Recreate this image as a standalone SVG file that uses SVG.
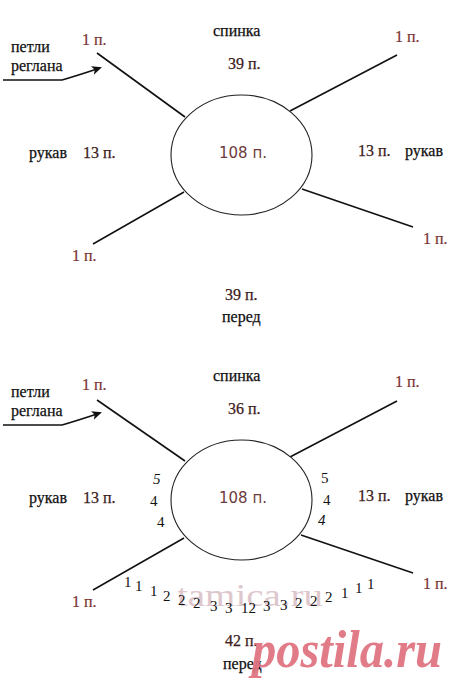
<svg xmlns="http://www.w3.org/2000/svg" width="460" height="691" viewBox="0 0 460 691">
<style>
text{font-family:"Liberation Serif","Times New Roman",Times,serif}
.t{font-size:16px;fill:#111;stroke:#111;stroke-width:0.25}
.r{font-size:16px;fill:#7a3232;stroke:#7a3232;stroke-width:0.2}
.m{font-size:16px;fill:#3c2020;stroke:#3c2020;stroke-width:0.25}
.c{font-family:"DejaVu Sans",Verdana,sans-serif;font-size:15px;fill:#6e3b3b}
.n{font-size:15px;fill:#111}
.i{font-style:italic}
.ln{stroke:#111;stroke-width:1.6;fill:none}
.el{stroke:#222;stroke-width:1.1;fill:#fff}
</style>
<defs>
<marker id="ah" markerWidth="10" markerHeight="9" refX="8" refY="4.5" orient="auto" markerUnits="userSpaceOnUse">
<path d="M0,0 L10,4.5 L0,9 L2.5,4.5 Z" fill="#111"/>
</marker>
</defs>
<rect width="460" height="691" fill="#fff"/>

<text x="177" y="606" font-size="31" fill="#c49aa3" opacity="0.55" textLength="146" lengthAdjust="spacingAndGlyphs">tamica.ru</text>

<g id="top-connectors">
<path class="ln" d="M3,80 H62 Q76,76 100,68" marker-end="url(#ah)"/>
<line class="ln" x1="97" y1="53" x2="185" y2="117"/>
<line class="ln" x1="290" y1="111" x2="397" y2="55"/>
<line class="ln" x1="184" y1="192" x2="93" y2="244"/>
<line class="ln" x1="302" y1="189" x2="413" y2="227"/>
</g>
<g id="top-center">
<ellipse class="el" cx="241.5" cy="155" rx="70.5" ry="60"/>
<text class="c" x="219" y="158">108 п.</text>
</g>
<g id="top-raglan-label"><text class="t" x="11" y="52">петли</text><text class="t" x="11" y="71">реглана</text></g>
<g id="top-back"><text class="t" x="213" y="36">спинка</text><text class="m" x="228" y="69">39 п.</text></g>
<g id="top-front"><text class="m" x="225" y="300">39 п.</text><text class="t" x="222" y="322">перед</text></g>
<g id="top-sleeve-left"><text class="t" x="29" y="158">рукав</text><text class="m" x="83" y="158">13 п.</text></g>
<g id="top-sleeve-right"><text class="m" x="358" y="156">13 п.</text><text class="t" x="405" y="156">рукав</text></g>
<g id="top-r1"><text class="r" x="82" y="45">1 п.</text></g>
<g id="top-r2"><text class="r" x="395" y="42">1 п.</text></g>
<g id="top-r3"><text class="r" x="72" y="261">1 п.</text></g>
<g id="top-r4"><text class="r" x="423" y="244">1 п.</text></g>

<g id="bottom-connectors">
<path class="ln" d="M3,425 H62 Q76,421 100,413" marker-end="url(#ah)"/>
<line class="ln" x1="97" y1="400" x2="185" y2="461"/>
<line class="ln" x1="290" y1="457" x2="397" y2="401"/>
<line class="ln" x1="184" y1="538" x2="93" y2="590"/>
<line class="ln" x1="301" y1="535" x2="413" y2="573"/>
</g>
<g id="bottom-center">
<ellipse class="el" cx="241.5" cy="500" rx="70.5" ry="60"/>
<text class="c" x="219" y="503">108 п.</text>
</g>
<g id="bottom-raglan-label"><text class="t" x="11" y="397">петли</text><text class="t" x="11" y="416">реглана</text></g>
<g id="bottom-back"><text class="t" x="213" y="381">спинка</text><text class="m" x="228" y="414">36 п.</text></g>
<g id="bottom-front"><text class="m" x="225" y="646">42 п.</text><text class="t" x="223" y="669">перед</text></g>
<g id="bottom-sleeve-left"><text class="t" x="29" y="503">рукав</text><text class="m" x="83" y="503">13 п.</text></g>
<g id="bottom-sleeve-right"><text class="m" x="358" y="501">13 п.</text><text class="t" x="405" y="501">рукав</text></g>
<g id="bottom-r1"><text class="r" x="82" y="390">1 п.</text></g>
<g id="bottom-r2"><text class="r" x="395" y="387">1 п.</text></g>
<g id="bottom-r3"><text class="r" x="72" y="607">1 п.</text></g>
<g id="bottom-r4"><text class="r" x="423" y="589">1 п.</text></g>

<g id="decreases-left">
<text class="n i" x="153" y="484">5</text>
<text class="n" x="150" y="506">4</text>
<text class="n" x="157" y="527" font-size="13">4</text>
</g>
<g id="decreases-right">
<text class="n" x="321" y="483">5</text>
<text class="n" x="323" y="505">4</text>
<text class="n i" x="318" y="525">4</text>
</g>
<g id="decreases-front">
<text class="n" x="124" y="587">1</text>
<text class="n" x="135" y="591">1</text>
<text class="n" x="150" y="596">1</text>
<text class="n" x="163" y="601">2</text>
<text class="n" x="178" y="605">2</text>
<text class="n" x="193" y="608">2</text>
<text class="n" x="210" y="611">3</text>
<text class="n" x="225" y="613">3</text>
<text class="n" x="241" y="613">12</text>
<text class="n" x="263" y="611">3</text>
<text class="n" x="280" y="610">3</text>
<text class="n" x="295" y="608">2</text>
<text class="n" x="310" y="606">2</text>
<text class="n" x="325" y="602">2</text>
<text class="n" x="341" y="598">1</text>
<text class="n" x="355" y="593">1</text>
<text class="n" x="367" y="589">1</text>
</g>

<text x="252" y="667" font-weight="bold" font-style="italic" font-size="52" fill="#e0707e" opacity="0.92" textLength="190" lengthAdjust="spacingAndGlyphs">postila.ru</text>
</svg>
